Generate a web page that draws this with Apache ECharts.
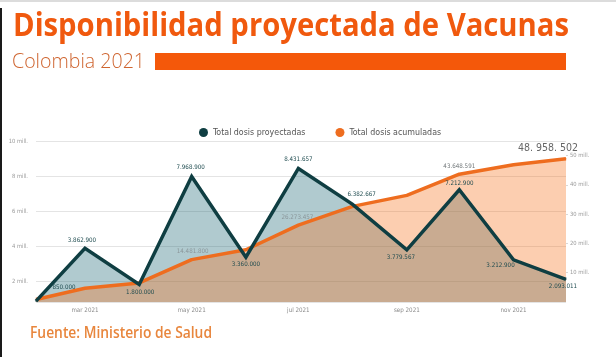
<!DOCTYPE html>
<html>
<head>
<meta charset="utf-8">
<script src="https://cdn.jsdelivr.net/npm/echarts@6/dist/echarts.min.js"></script>
<style>
html,body{margin:0;padding:0;background:#fff;}
#chart{width:616px;height:357px;}
</style>
</head>
<body>
<div id="chart"></div>
<script>
// ---- Data ----
const fechas = ['2021-02-01','2021-03-01','2021-04-01','2021-05-01','2021-06-01','2021-07-01','2021-08-01','2021-09-01','2021-10-01','2021-11-01','2021-12-01'];
const dosisProyectadas = [850000, 3862900, 1800000, 7968900, 3360000, 8431657, 6382667, 3779567, 7212900, 3212900, 2093011];
const dosisAcumuladas = [850000, 4712900, 6512900, 14481800, 17841800, 26273457, 32656124, 36435691, 43648591, 46861491, 48958502];
const fechasEtiquetasX = ['2021-03-01','2021-05-01','2021-07-01','2021-09-01','2021-11-01'];
const etiquetasX = ['mar 2021','may 2021','jul 2021','sep 2021','nov 2021'];
const acumuladasConEtiqueta = [3, 5, 8, 10];
const nombreProy = 'Total dosis proyectadas';
const nombreAcum = 'Total dosis acumuladas';
const titulo = 'Disponibilidad proyectada de Vacunas';
const subtitulo = 'Colombia 2021';
const fuente = 'Fuente: Ministerio de Salud';

// ---- helpers ----
function ts(s){ const p = s.split('-').map(Number); return Date.UTC(p[0], p[1]-1, p[2]); }
const t0 = ts(fechas[0]);
function dia(s){ return Math.round((ts(s) - t0) / 86400000); }
function fmt(v, sep){ return String(v).replace(/\B(?=(\d{3})+(?!\d))/g, sep || '.'); }
const ctx = document.createElement('canvas').getContext('2d');
function has(f){
  const s = 'mmmmmmlllliii0123456789WwQq';
  ctx.font = '40px monospace'; const a = ctx.measureText(s).width;
  ctx.font = "40px '" + f + "', monospace"; const b = ctx.measureText(s).width;
  ctx.font = '40px serif'; const c = ctx.measureText(s).width;
  ctx.font = "40px '" + f + "', serif"; const d = ctx.measureText(s).width;
  return a !== b || c !== d;
}
const narrow = has('Liberation Sans Narrow') ? 'Liberation Sans Narrow' : (has('DejaVu Sans Condensed') ? 'DejaVu Sans Condensed' : 'Roboto');
function textWidth(font, t){ ctx.font = font; return ctx.measureText(t).width; }
function fitText(text, font, x, yMid, width, color){
  const w = textWidth(font, text);
  return { type:'text', x:x, y:yMid, scaleX: width / w, scaleY: 1, silent:true,
    style:{ text:text, x:0, y:0, font:font, fill:color, textAlign:'left', verticalAlign:'middle' } };
}

// label offsets (layout only)
const offProy = [[28,-14],[-3,-8],[1,8],[-1,-9],[0,7],[0,-9],[9,-10],[-6,8],[0,-6],[-13,6],[-3,7]];
const offAcum = {3:[1,-8],5:[-1,-8],8:[0,-8],10:[-18,-10]};

const teal = '#0f3e42';
const orange = '#ee6d1f';

const proyArea = fechas.map((f,i)=>[dia(f), dosisProyectadas[i]]);
const proyLine = fechas.map((f,i)=>({
  value:[dia(f), dosisProyectadas[i]],
  label:{ show:true, position:'inside', offset: offProy[i], formatter: fmt(dosisProyectadas[i]) }
}));
const acum = fechas.map((f,i)=>{
  const on = acumuladasConEtiqueta.indexOf(i) >= 0;
  const last = i === fechas.length - 1;
  return {
    value:[dia(f), dosisAcumuladas[i]],
    label:{ show:on, position:'inside', offset: offAcum[i] || [0,0],
      formatter: last ? fmt(dosisAcumuladas[i], '. ') : fmt(dosisAcumuladas[i]),
      fontSize: last ? 10.5 : 6.2, color: last ? '#666' : (i===8 ? '#6f7577' : '#8a969a') }
  };
});
const diasEtiquetas = fechasEtiquetasX.map(dia);

const chart = echarts.init(document.getElementById('chart'), null, {renderer:'canvas'});
const option = {
  animation:false,
  backgroundColor:'#fff',
  grid:{ left:36, right:50, top:141, bottom:55, containLabel:false },
  legend:{
    left:194, top:123, itemWidth:9, itemHeight:9, itemGap:30,
    data:[{name:nombreProy, icon:'circle'},{name:nombreAcum, icon:'circle'}],
    textStyle:{ fontSize:8.8, color:'#555', fontFamily:narrow }
  },
  xAxis:{
    type:'value', min: 0, max: dia(fechas[fechas.length-1]),
    axisLine:{show:false}, axisTick:{show:false}, splitLine:{show:false},
    axisLabel:{
      customValues: diasEtiquetas,
      formatter: function(v){ const k = diasEtiquetas.indexOf(Math.round(v)); return k>=0 ? etiquetasX[k] : ''; },
      fontSize:6.2, color:'#8a8a8a', margin:5, fontFamily:narrow
    }
  },
  yAxis:[
    { type:'value', min:800000, max:10000000, splitNumber:5,
      axisLine:{show:false}, axisTick:{show:false},
      splitLine:{ lineStyle:{ color:'#e4e4e4', width:1 } },
      axisLabel:{ showMinLabel:false, fontSize:5.8, color:'#9a9a9a', margin:8, fontFamily:narrow,
        formatter: v => (v/1e6) + ' mill.' } },
    { type:'value', min:0, max:55000000, interval:10000000, position:'right',
      axisLine:{show:false}, axisTick:{show:true, length:2, lineStyle:{color:'#d8d8d8'}}, splitLine:{show:false},
      axisLabel:{ showMinLabel:false, showMaxLabel:false, fontSize:5.8, color:'#9a9a9a', margin:4, fontFamily:narrow,
        formatter: v => (v/1e6) + ' mill.' } }
  ],
  series:[
    { name:nombreProy, type:'line', yAxisIndex:0, data:proyArea, symbol:'none', z:1,
      itemStyle:{ color:teal }, lineStyle:{ width:0, color:teal },
      areaStyle:{ color:'rgba(30,105,120,0.5)', origin:'start' } },
    { name:nombreAcum, type:'line', yAxisIndex:1, data:acum, symbol:'circle', symbolSize:1, z:2,
      itemStyle:{ color:orange }, lineStyle:{ width:3.5, color:orange },
      areaStyle:{ color:'rgba(246,116,30,0.5)', origin:'start' },
      label:{ fontFamily:narrow } },
    { name:nombreProy, type:'line', yAxisIndex:0, data:proyLine, symbol:'circle', symbolSize:1, z:3,
      itemStyle:{ color:teal }, lineStyle:{ width:3.5, color:teal, join:'miter' },
      label:{ fontSize:6.2, color:'#1d4a4e', fontFamily:narrow } }
  ],
  graphic:[
    { type:'rect', shape:{x:0,y:0,width:616,height:2}, style:{fill:'#dcdcdc'}, silent:true },
    { type:'rect', shape:{x:0,y:8,width:2,height:349}, style:{fill:'#1a1a1a'}, silent:true },
    fitText(titulo, "bold 32px 'Open Sans'", 13, 26.5, 556, '#f0590e'),
    fitText(subtitulo, "300 21px 'Open Sans'", 12, 62.5, 133, '#cf6530'),
    { type:'rect', shape:{x:155,y:53,width:411,height:17}, style:{fill:'#f4580a'}, silent:true },
    fitText(fuente, "600 17px 'Open Sans'", 30, 333.5, 182, '#e8863d')
  ]
};
chart.setOption(option);
</script>
</body>
</html>
